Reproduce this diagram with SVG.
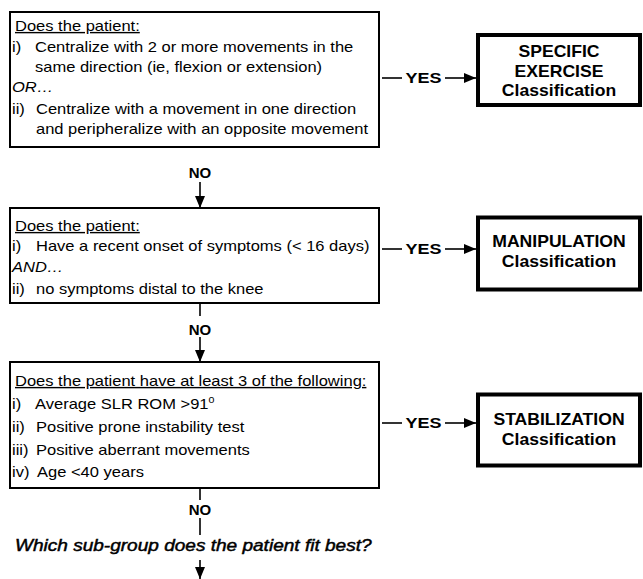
<svg xmlns="http://www.w3.org/2000/svg" width="643" height="579" viewBox="0 0 643 579">
<style>
text{font-family:"Liberation Sans",Arial,Helvetica,sans-serif;fill:#000}
.b{font-size:14px}
.i{font-size:14px;font-style:italic}
.u{text-decoration:underline}
.c{font-size:16px;font-weight:bold;text-anchor:middle}
.y{font-size:15px;font-weight:bold;text-anchor:middle}
.n{font-size:15px;font-weight:bold;text-anchor:middle}
.q{font-size:16px;font-style:italic;stroke:#000;stroke-width:0.45}
.box{fill:#fff;stroke:#000;stroke-width:2}
.cls{fill:#fff;stroke:#000;stroke-width:4}
.ln{stroke:#000;stroke-width:1.6;fill:none}
</style>
<defs>
<marker id="ah" markerWidth="12" markerHeight="10" refX="12" refY="5" orient="auto" markerUnits="userSpaceOnUse">
<path d="M0,0 L12,5 L0,10 z" fill="#000"/>
</marker>
</defs>

<g id="connectors">
<line class="ln" x1="382" y1="78" x2="402" y2="78"/>
<line class="ln" x1="445" y1="78" x2="476" y2="78" marker-end="url(#ah)"/>
<line class="ln" x1="382" y1="249" x2="402" y2="249"/>
<line class="ln" x1="445" y1="249" x2="476" y2="249" marker-end="url(#ah)"/>
<line class="ln" x1="382" y1="423" x2="402" y2="423"/>
<line class="ln" x1="445" y1="423" x2="476" y2="423" marker-end="url(#ah)"/>
<line class="ln" x1="200" y1="182" x2="200" y2="208" marker-end="url(#ah)"/>
<line class="ln" x1="200" y1="303" x2="200" y2="316"/>
<line class="ln" x1="200" y1="337" x2="200" y2="362" marker-end="url(#ah)"/>
<line class="ln" x1="200" y1="488" x2="200" y2="500"/>
<line class="ln" x1="200" y1="518" x2="200" y2="535"/>
<line class="ln" x1="200" y1="560" x2="200" y2="579" marker-end="url(#ah)"/>
<text class="y" transform="translate(423.5 83) scale(1.2 1)">YES</text>
<text class="y" transform="translate(423.5 254) scale(1.2 1)">YES</text>
<text class="y" transform="translate(423.5 428) scale(1.2 1)">YES</text>
<text class="n" transform="translate(200 178)">NO</text>
<text class="n" transform="translate(200 335)">NO</text>
<text class="n" transform="translate(200 515)">NO</text>
</g>

<g id="q1">
<rect class="box" x="10" y="12" width="369" height="135"/>
<text class="b u" transform="translate(15 31) scale(1.18 1)">Does the patient:</text>
<text class="b" transform="translate(12 52) scale(1.18 1)">i)</text>
<text class="b" transform="translate(35 52) scale(1.18 1)">Centralize with 2 or more movements in the</text>
<text class="b" transform="translate(35 72) scale(1.18 1)">same direction (ie, flexion or extension)</text>
<text class="i" transform="translate(12 92) scale(1.18 1)">OR…</text>
<text class="b" transform="translate(12 114) scale(1.18 1)">ii)</text>
<text class="b" transform="translate(36 114) scale(1.18 1)">Centralize with a movement in one direction</text>
<text class="b" transform="translate(36 134) scale(1.18 1)">and peripheralize with an opposite movement</text>
</g>

<g id="q2">
<rect class="box" x="10" y="208" width="369" height="95"/>
<text class="b u" transform="translate(15 231) scale(1.18 1)">Does the patient:</text>
<text class="b" transform="translate(12 251) scale(1.18 1)">i)</text>
<text class="b" transform="translate(36 251) scale(1.18 1)">Have a recent onset of symptoms (&lt; 16 days)</text>
<text class="i" transform="translate(12 272) scale(1.18 1)">AND…</text>
<text class="b" transform="translate(12 294) scale(1.18 1)">ii)</text>
<text class="b" transform="translate(36 294) scale(1.18 1)">no symptoms distal to the knee</text>
</g>

<g id="q3">
<rect class="box" x="10" y="362" width="369" height="126"/>
<text class="b u" transform="translate(15 386) scale(1.18 1)">Does the patient have at least 3 of the following:</text>
<text class="b" transform="translate(12 409) scale(1.18 1)">i)</text>
<text class="b" transform="translate(35 409) scale(1.18 1)">Average SLR ROM &gt;91<tspan font-size="9" dy="-6">0</tspan></text>
<text class="b" transform="translate(12 432) scale(1.18 1)">ii)</text>
<text class="b" transform="translate(36 432) scale(1.18 1)">Positive prone instability test</text>
<text class="b" transform="translate(12 455) scale(1.18 1)">iii)</text>
<text class="b" transform="translate(36 455) scale(1.18 1)">Positive aberrant movements</text>
<text class="b" transform="translate(12 477) scale(1.18 1)">iv)</text>
<text class="b" transform="translate(37 477) scale(1.18 1)">Age &lt;40 years</text>
</g>

<g id="specific">
<rect class="cls" x="478" y="35" width="162" height="70"/>
<text class="c" transform="translate(559 57) scale(1.1 1)">SPECIFIC</text>
<text class="c" transform="translate(559 77) scale(1.1 1)">EXERCISE</text>
<text class="c" transform="translate(559 96) scale(1.1 1)">Classification</text>
</g>

<g id="manipulation">
<rect class="cls" x="478" y="217.5" width="162" height="72"/>
<text class="c" transform="translate(559 247) scale(1.1 1)">MANIPULATION</text>
<text class="c" transform="translate(559 267) scale(1.1 1)">Classification</text>
</g>

<g id="stabilization">
<rect class="cls" x="478" y="394.5" width="162" height="71"/>
<text class="c" transform="translate(559 425) scale(1.1 1)">STABILIZATION</text>
<text class="c" transform="translate(559 445) scale(1.1 1)">Classification</text>
</g>

<g id="subgroup">
<text class="q" transform="translate(15 551) scale(1.19 1)">Which sub-group does the patient fit best?</text>
</g>
</svg>
